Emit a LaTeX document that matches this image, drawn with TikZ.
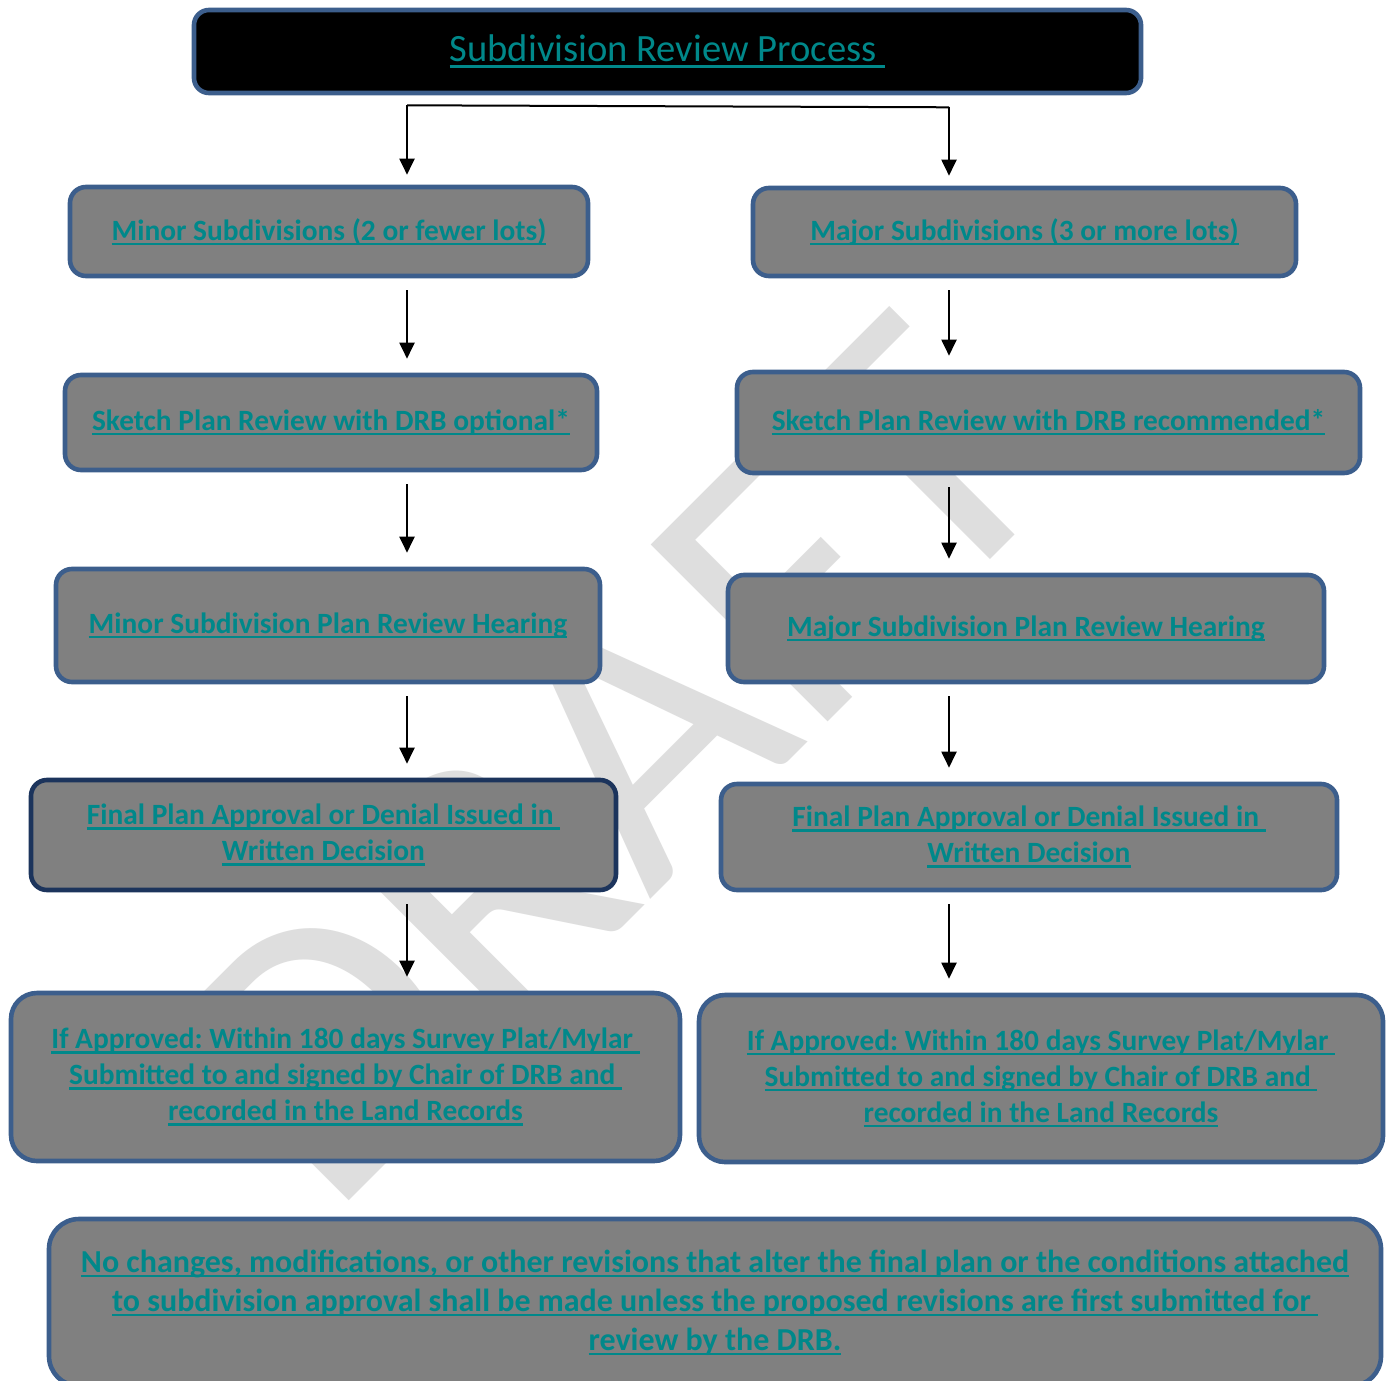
\documentclass[tikz,border=0pt]{standalone}
\usepackage{fontspec}
\setmainfont{Carlito}
\usetikzlibrary{arrows.meta}
\frenchspacing

\definecolor{boxgray}{RGB}{128,128,128}
\definecolor{boxblue}{RGB}{60,94,140}
\definecolor{boxnavy}{RGB}{28,52,92}
\definecolor{linkteal}{RGB}{0,136,138}
\definecolor{wmgray}{RGB}{222,222,222}

\newsavebox{\lnkbox}
\newcommand{\lnk}[1]{\leavevmode\sbox{\lnkbox}{#1}\rlap{\rule[-0.16em]{\wd\lnkbox}{0.075em}}\usebox{\lnkbox}}

\tikzstyle{stepbox} = [draw=boxblue,line width=2.3pt,fill=boxgray,rounded corners=8pt,inner sep=0pt,text=linkteal,align=center,font=\fontsize{14.7}{18}\selectfont\bfseries]
\tikzstyle{bigbox} = [stepbox,rounded corners=13pt]
\tikzstyle{flow} = [-{Triangle[length=8pt,width=7.5pt]},line width=1pt,shorten <=6pt,shorten >=7pt]

\begin{document}
\begin{tikzpicture}[x=0.5pt,y=-0.5pt]
		\useasboundingbox (0,0) rectangle (1390,1380);
		\clip (0,0) rectangle (1390,1380);
		\fill[white] (0,0) rectangle (1390,1380);

		% watermark
		\node[rotate=45,anchor=base west,text=wmgray,inner sep=0pt,font=\fontsize{195}{195}\selectfont] (wm) at (330,1220) {DRAFT};

		\node[stepbox,fill=black,rounded corners=7.5pt,font=\fontsize{19.3}{22}\selectfont,minimum width=473.5pt,minimum height=41.5pt] (title) at (667.5,51.5) {\lnk{Subdivision Review Process\ }};

		\node[stepbox,minimum width=259pt,minimum height=44.5pt] (minorL) at (329,231.5) {\lnk{Minor Subdivisions (2 or fewer lots)}};
		\node[stepbox,minimum width=266pt,minimum height=47.5pt] (sketchL) at (331,422.5) {\lnk{Sketch Plan Review with DRB optional*}};
		\node[stepbox,minimum width=272pt,minimum height=56.5pt] (hearL) at (328,625.5) {\lnk{Minor Subdivision Plan Review Hearing}};
		\node[stepbox,draw=boxnavy,minimum width=292.5pt,minimum height=55pt] (finalL) at (323.5,835) {\lnk{Final Plan Approval or Denial Issued in\ }\\\lnk{Written Decision}};
		\node[bigbox,minimum width=334.5pt,minimum height=84pt] (apprL) at (345.5,1077) {\lnk{If Approved: Within 180 days Survey Plat/Mylar\ }\\\lnk{Submitted to and signed by Chair of DRB and\ }\\\lnk{recorded in the Land Records}};

		\node[stepbox,minimum width=271.5pt,minimum height=44pt] (majorR) at (1024.5,232) {\lnk{Major Subdivisions (3 or more lots)}};
		\node[stepbox,minimum width=311.5pt,minimum height=50.5pt] (sketchR) at (1048.5,422.5) {\lnk{Sketch Plan Review with DRB recommended*}};
		\node[stepbox,minimum width=298pt,minimum height=53.5pt] (hearR) at (1026,628.5) {\lnk{Major Subdivision Plan Review Hearing}};
		\node[stepbox,minimum width=308pt,minimum height=53pt] (finalR) at (1029,837) {\lnk{Final Plan Approval or Denial Issued in\ }\\\lnk{Written Decision}};
		\node[bigbox,minimum width=342pt,minimum height=83.5pt] (apprR) at (1041,1078.5) {\lnk{If Approved: Within 180 days Survey Plat/Mylar\ }\\\lnk{Submitted to and signed by Chair of DRB and\ }\\\lnk{recorded in the Land Records}};

		\node[bigbox,rounded corners=15pt,font=\fontsize{16}{19.5}\selectfont\bfseries,minimum width=666pt,minimum height=83.5pt] (note) at (715,1302.5) {\lnk{No changes, modifications, or other revisions that alter the final plan or the conditions attached}\\\lnk{to subdivision approval shall be made unless the proposed revisions are first submitted for\ }\\\lnk{review by the DRB.}};

		\coordinate (colL) at (407,0);
		\coordinate (colR) at (949,0);
		\coordinate (forkL) at ([yshift=-5pt]title.south -| colL);
		\coordinate (forkR) at ([yshift=-6pt]title.south -| colR);

		\draw[line width=1pt] (forkL) -- (forkR);
		\draw[flow,shorten <=0pt,shorten >=5pt] (forkL) -- (minorL.north -| colL);
		\draw[flow,shorten <=0pt,shorten >=5pt] (forkR) -- (majorR.north -| colR);

		\draw[flow] (minorL.south -| colL) -- (sketchL.north -| colL);
		\draw[flow] (sketchL.south -| colL) -- (hearL.north -| colL);
		\draw[flow] (hearL.south -| colL) -- (finalL.north -| colL);
		\draw[flow] (finalL.south -| colL) -- (apprL.north -| colL);

		\draw[flow] (majorR.south -| colR) -- (sketchR.north -| colR);
		\draw[flow] (sketchR.south -| colR) -- (hearR.north -| colR);
		\draw[flow] (hearR.south -| colR) -- (finalR.north -| colR);
		\draw[flow] (finalR.south -| colR) -- (apprR.north -| colR);
\end{tikzpicture}
\end{document}
